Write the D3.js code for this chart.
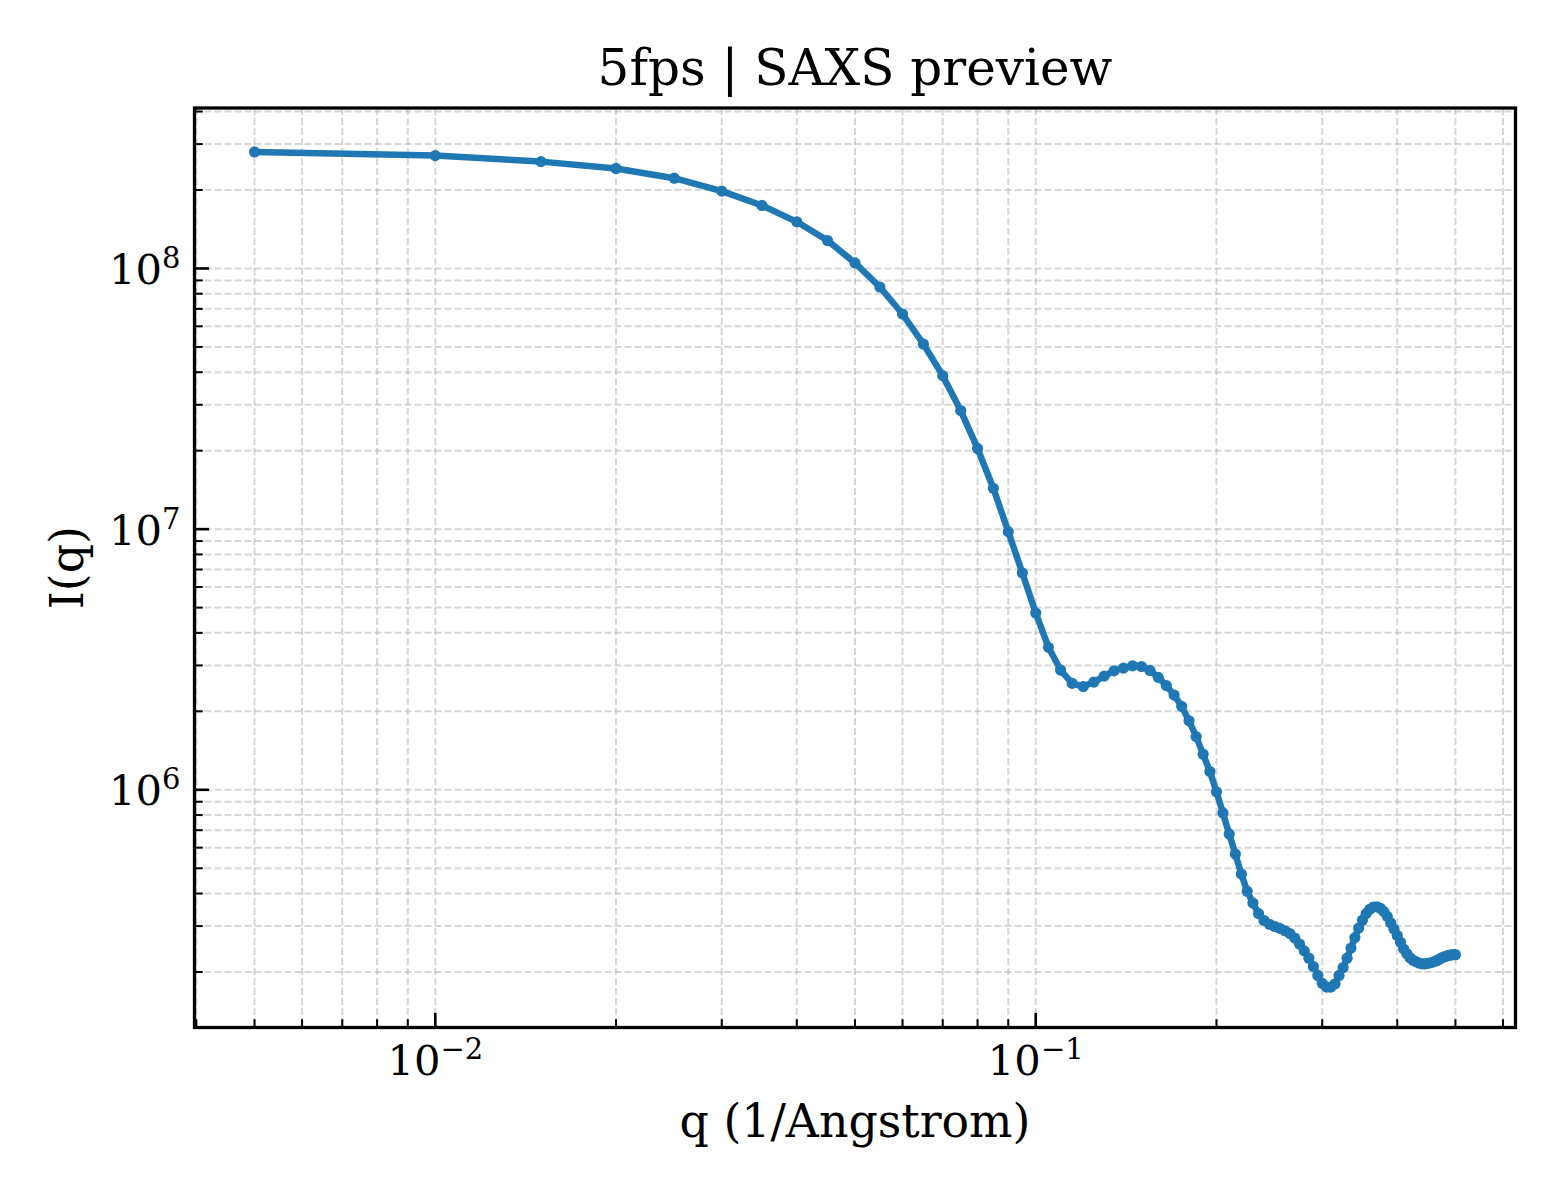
<!DOCTYPE html>
<html>
<head>
<meta charset="utf-8">
<script src="https://cdn.jsdelivr.net/npm/d3@7"></script>
<style>
  body { margin: 0; background: #fff; }
  text { font-family: "DejaVu Serif", serif; fill: #000; }
</style>
</head>
<body>
<svg id="chart" width="1560" height="1200"></svg>
<script>
// q values (1/Angstrom) and measured intensity
const q = [
  0.005, 0.010, 0.015, 0.020, 0.025, 0.030, 0.035, 0.040, 0.045, 0.050,
  0.055, 0.060, 0.065, 0.070, 0.075, 0.080, 0.085, 0.090, 0.095, 0.100,
  0.105, 0.110, 0.115, 0.120, 0.125, 0.130, 0.135, 0.140, 0.145, 0.150,
  0.155, 0.160, 0.165, 0.170, 0.175, 0.180, 0.185, 0.190, 0.195, 0.200,
  0.205, 0.210, 0.215, 0.220, 0.225, 0.230, 0.235, 0.240, 0.245, 0.250,
  0.255, 0.260, 0.265, 0.270, 0.275, 0.280, 0.285, 0.290, 0.295, 0.300,
  0.305, 0.310, 0.315, 0.320, 0.325, 0.330, 0.335, 0.340, 0.345, 0.350,
  0.355, 0.360, 0.365, 0.370, 0.375, 0.380, 0.385, 0.390, 0.395, 0.400,
  0.405, 0.410, 0.415, 0.420, 0.425, 0.430, 0.435, 0.440, 0.445, 0.450,
  0.455, 0.460, 0.465, 0.470, 0.475, 0.480, 0.485, 0.490, 0.495, 0.500
];
const intensity = [
  2.80e8, 2.71e8, 2.57e8, 2.42e8, 2.22e8, 1.98e8, 1.745e8, 1.51e8, 1.28e8, 1.05e8,
  8.49e7, 6.69e7, 5.13e7, 3.88e7, 2.85e7, 2.04e7, 1.435e7, 9.78e6, 6.79e6, 4.77e6,
  3.52e6, 2.88e6, 2.56e6, 2.49e6, 2.59e6, 2.73e6, 2.86e6, 2.93e6, 2.99e6, 2.97e6,
  2.87e6, 2.70e6, 2.51e6, 2.31e6, 2.09e6, 1.84e6, 1.60e6, 1.37e6, 1.175e6, 9.82e5,
  8.15e5, 6.77e5, 5.67e5, 4.75e5, 4.08e5, 3.68e5, 3.35e5, 3.15e5, 3.05e5, 2.99e5,
  2.94e5, 2.88e5, 2.81e5, 2.70e5, 2.56e5, 2.41e5, 2.26e5, 2.10e5, 1.94e5, 1.81e5,
  1.75e5, 1.75e5, 1.80e5, 1.94e5, 2.08e5, 2.26e5, 2.47e5, 2.71e5, 2.95e5, 3.16e5,
  3.35e5, 3.48e5, 3.55e5, 3.56e5, 3.51e5, 3.41e5, 3.27e5, 3.09e5, 2.92e5, 2.76e5,
  2.60e5, 2.45e5, 2.35e5, 2.27e5, 2.22e5, 2.19e5, 2.165e5, 2.15e5, 2.15e5, 2.16e5,
  2.17e5, 2.19e5, 2.21e5, 2.24e5, 2.27e5, 2.29e5, 2.31e5, 2.32e5, 2.33e5, 2.33e5
];

// axis limits and ticks
const xLimits = [0.003972, 0.6295];
const yLimits = [1.225e5, 4.127e8];
const xMajorTicks = [0.01, 0.1];
const xMajorExp = ['\u22122', '\u22121'];
const yMajorTicks = [1e6, 1e7, 1e8];
const yMajorExp = ['6', '7', '8'];
const minorMult = [2, 3, 4, 5, 6, 7, 8, 9];

const titleText = '5fps | SAXS preview';
const xLabelText = 'q (1/Angstrom)';
const yLabelText = 'I(q)';

const plot = { left: 194.5, right: 1515.5, top: 108, bottom: 1027.5 };

const svg = d3.select('#chart');

const x = d3.scaleLog().domain(xLimits).range([plot.left, plot.right]);
const y = d3.scaleLog().domain(yLimits).range([plot.bottom, plot.top]);

// minor tick positions between decades
function minorTicks(limits) {
  const out = [];
  const lo = Math.floor(Math.log10(limits[0]));
  const hi = Math.ceil(Math.log10(limits[1]));
  for (let e = lo; e <= hi; e++) {
    minorMult.forEach(m => {
      const v = m * Math.pow(10, e);
      if (v > limits[0] && v < limits[1]) out.push(v);
    });
  }
  return out;
}
const xMinorTicks = minorTicks(xLimits);
const yMinorTicks = minorTicks(yLimits);

// grid
const grid = svg.append('g')
  .attr('stroke', '#b0b0b0')
  .attr('stroke-opacity', 0.5)
  .attr('stroke-width', 2)
  .attr('stroke-dasharray', '7,3');

grid.selectAll('.vgrid')
  .data(xMajorTicks.concat(xMinorTicks))
  .enter()
  .append('line')
  .attr('x1', d => x(d)).attr('x2', d => x(d))
  .attr('y1', plot.top).attr('y2', plot.bottom);

grid.selectAll('.hgrid')
  .data(yMajorTicks.concat(yMinorTicks))
  .enter()
  .append('line')
  .attr('x1', plot.left).attr('x2', plot.right)
  .attr('y1', d => y(d)).attr('y2', d => y(d));

// data line and markers
const line = d3.line()
  .x((d, i) => x(q[i]))
  .y(d => y(d));

svg.append('path')
  .datum(intensity)
  .attr('fill', 'none')
  .attr('stroke', '#1f77b4')
  .attr('stroke-width', 6.5)
  .attr('stroke-linejoin', 'round')
  .attr('stroke-linecap', 'round')
  .attr('d', line);

svg.append('g')
  .selectAll('circle')
  .data(intensity)
  .enter()
  .append('circle')
  .attr('cx', (d, i) => x(q[i]))
  .attr('cy', d => y(d))
  .attr('r', 5.6)
  .attr('fill', '#1f77b4');

// ticks (inward)
const ticks = svg.append('g').attr('stroke', '#000').attr('stroke-width', 2.6);

ticks.selectAll('.xmaj').data(xMajorTicks).enter().append('line')
  .attr('x1', d => x(d)).attr('x2', d => x(d))
  .attr('y1', plot.bottom).attr('y2', plot.bottom - 14.6);
ticks.selectAll('.xmin').data(xMinorTicks).enter().append('line')
  .attr('stroke-width', 2)
  .attr('x1', d => x(d)).attr('x2', d => x(d))
  .attr('y1', plot.bottom).attr('y2', plot.bottom - 8.3);
ticks.selectAll('.ymaj').data(yMajorTicks).enter().append('line')
  .attr('y1', d => y(d)).attr('y2', d => y(d))
  .attr('x1', plot.left).attr('x2', plot.left + 14.6);
ticks.selectAll('.ymin').data(yMinorTicks).enter().append('line')
  .attr('stroke-width', 2)
  .attr('y1', d => y(d)).attr('y2', d => y(d))
  .attr('x1', plot.left).attr('x2', plot.left + 8.3);

// frame
svg.append('rect')
  .attr('x', plot.left).attr('y', plot.top)
  .attr('width', plot.right - plot.left)
  .attr('height', plot.bottom - plot.top)
  .attr('fill', 'none')
  .attr('stroke', '#000')
  .attr('stroke-width', 3.3);

// tick labels with superscript exponent
const tickFont = 41.7;
const supFont = 29;

const xl = svg.selectAll('.xlab').data(xMajorTicks).enter().append('text')
  .attr('x', d => x(d))
  .attr('y', 1075)
  .attr('text-anchor', 'middle')
  .attr('font-size', tickFont);
xl.append('tspan').text('10');
xl.append('tspan').attr('dy', -16).attr('font-size', supFont).text((d, i) => xMajorExp[i]);

const yl = svg.selectAll('.ylab').data(yMajorTicks).enter().append('text')
  .attr('x', 180.5)
  .attr('y', d => y(d) + 15.5)
  .attr('text-anchor', 'end')
  .attr('font-size', tickFont);
yl.append('tspan').text('10');
yl.append('tspan').attr('dy', -16).attr('font-size', supFont).text((d, i) => yMajorExp[i]);

// titles
svg.append('text')
  .attr('x', (plot.left + plot.right) / 2)
  .attr('y', 85)
  .attr('text-anchor', 'middle')
  .attr('font-size', 50)
  .text(titleText);

svg.append('text')
  .attr('x', (plot.left + plot.right) / 2)
  .attr('y', 1137)
  .attr('text-anchor', 'middle')
  .attr('font-size', 45.8)
  .text(xLabelText);

svg.append('text')
  .attr('transform', `translate(83, ${(plot.top + plot.bottom) / 2}) rotate(-90)`)
  .attr('text-anchor', 'middle')
  .attr('font-size', 45.8)
  .text(yLabelText);
</script>
</body>
</html>
